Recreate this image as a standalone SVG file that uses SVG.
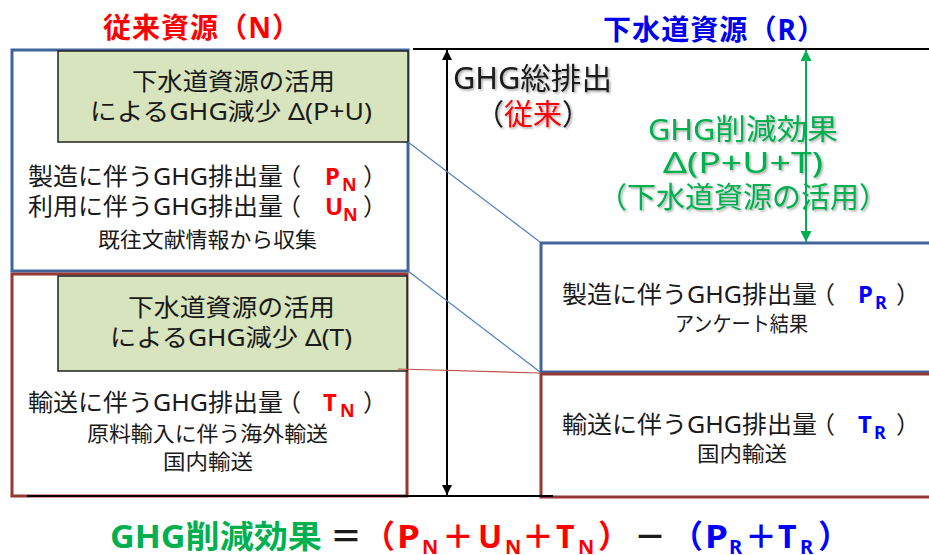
<svg xmlns="http://www.w3.org/2000/svg" width="929" height="555" viewBox="0 0 929 555">
<defs>
<style>
.t{font-family:"Noto Sans","Noto Sans CJK JP",sans-serif;fill:#1a1a1a}
.m{font-size:24px}
.s{font-size:21px}
.b{font-weight:700}
.red{fill:#ff0000}
.blue{fill:#0000ff}
.grn{fill:#00b050}
.bxb{fill:#ffffff;stroke:#41659a;stroke-width:3}
.bxr{fill:#ffffff;stroke:#953735;stroke-width:3}
.bxg{fill:#d7e4bd;stroke:#222222;stroke-width:1.5}
.ln{fill:none;stroke:#000000;stroke-width:2}
</style>
<marker id="ab" viewBox="0 0 10 10" refX="10" refY="5" markerWidth="10" markerHeight="10" markerUnits="userSpaceOnUse" orient="auto-start-reverse"><path d="M0,0 L10,5 L0,10 Z" fill="#000000"/></marker>
<marker id="ag" viewBox="0 0 10 10" refX="10" refY="5" markerWidth="11" markerHeight="11" markerUnits="userSpaceOnUse" orient="auto-start-reverse"><path d="M0,0 L10,5 L0,10 Z" fill="#00b050"/></marker>
<filter id="sh" x="-10%" y="-20%" width="120%" height="150%"><feDropShadow dx="1.5" dy="1.5" stdDeviation="1.2" flood-color="#000000" flood-opacity="0.35"/></filter>
</defs>

<g id="title-conventional"><text class="t b red" x="103" y="38" font-size="28" textLength="197">従来資源（N）</text></g>
<g id="title-sewage"><text class="t b" x="603" y="40" font-size="28" textLength="222" style="fill:#0000ee">下水道資源（R）</text></g>

<g id="conventional-PU">
<rect class="bxb" x="12" y="50" width="396" height="221"/>
<text class="t m" x="28" y="185" textLength="255" lengthAdjust="spacingAndGlyphs">製造に伴うGHG排出量</text>
<text class="t m" x="277" y="185">（<tspan class="b red" x="325">P</tspan><tspan class="b red" font-size="18" x="342" dy="6">N</tspan><tspan x="363" dy="-6">）</tspan></text>
<text class="t m" x="28" y="215" textLength="255" lengthAdjust="spacingAndGlyphs">利用に伴うGHG排出量</text>
<text class="t m" x="277" y="215">（<tspan class="b red" x="325">U</tspan><tspan class="b red" font-size="18" x="343" dy="6">N</tspan><tspan x="363" dy="-6">）</tspan></text>
<text class="t s" x="98" y="247" textLength="219" lengthAdjust="spacingAndGlyphs">既往文献情報から収集</text>
</g>

<g id="reduction-PU">
<rect class="bxg" x="58" y="51" width="350" height="91"/>
<text class="t m" x="132" y="90" textLength="203" lengthAdjust="spacingAndGlyphs">下水道資源の活用</text>
<text class="t m" x="90" y="120" textLength="282" lengthAdjust="spacingAndGlyphs">によるGHG減少  Δ(P+U)</text>
</g>

<g id="conventional-T">
<rect class="bxr" x="12" y="274" width="395" height="222"/>
<text class="t m" x="28" y="411" textLength="255" lengthAdjust="spacingAndGlyphs">輸送に伴うGHG排出量</text>
<text class="t m" x="277" y="411">（<tspan class="b red" x="323">T</tspan><tspan class="b red" font-size="18" x="340" dy="6">N</tspan><tspan x="363" dy="-6">）</tspan></text>
<text class="t s" x="87" y="441" textLength="241" lengthAdjust="spacingAndGlyphs">原料輸入に伴う海外輸送</text>
<text class="t s" x="163" y="469" textLength="90" lengthAdjust="spacingAndGlyphs">国内輸送</text>
</g>

<g id="reduction-T">
<rect class="bxg" x="58" y="276" width="349" height="95"/>
<text class="t m" x="128" y="316" textLength="207" lengthAdjust="spacingAndGlyphs">下水道資源の活用</text>
<text class="t m" x="110" y="346" textLength="242" lengthAdjust="spacingAndGlyphs">によるGHG減少  Δ(T)</text>
</g>

<g id="sewage-P">
<rect class="bxb" x="541" y="243" width="400" height="129"/>
<text class="t m" x="562" y="303" textLength="255" lengthAdjust="spacingAndGlyphs">製造に伴うGHG排出量</text>
<text class="t m" x="811" y="303">（<tspan class="b blue" x="858">P</tspan><tspan class="b blue" font-size="18" x="875" dy="6">R</tspan><tspan x="896" dy="-6">）</tspan></text>
<text class="t s" x="675" y="331" textLength="133" lengthAdjust="spacingAndGlyphs">アンケート結果</text>
</g>

<g id="sewage-T">
<rect class="bxr" x="541" y="374" width="400" height="123"/>
<text class="t m" x="562" y="433" textLength="255" lengthAdjust="spacingAndGlyphs">輸送に伴うGHG排出量</text>
<text class="t m" x="811" y="433">（<tspan class="b blue" x="858">T</tspan><tspan class="b blue" font-size="18" x="874" dy="6">R</tspan><tspan x="896" dy="-6">）</tspan></text>
<text class="t s" x="697" y="461" textLength="90" lengthAdjust="spacingAndGlyphs">国内輸送</text>
</g>

<g id="total-label" filter="url(#sh)">
<text class="t" x="453" y="89" font-size="30" textLength="159" lengthAdjust="spacingAndGlyphs">GHG総排出</text>
<text class="t" x="533" y="125" font-size="29" text-anchor="middle">（<tspan class="red">従来</tspan>）</text>
</g>

<g id="effect-label" filter="url(#sh)">
<text class="t grn" x="648" y="140" font-size="29" textLength="190" lengthAdjust="spacingAndGlyphs">GHG削減効果</text>
<text class="t grn" x="663" y="173" font-size="29" textLength="160" lengthAdjust="spacingAndGlyphs">Δ(P+U+T)</text>
<text class="t grn" x="743" y="208" font-size="29" text-anchor="middle">（下水道資源の活用）</text>
</g>

<g id="connectors">
<line class="ln" x1="413" y1="49" x2="929" y2="49"/>
<line class="ln" x1="27" y1="496" x2="553" y2="496"/>
<line class="ln" x1="447" y1="50" x2="447" y2="495" marker-start="url(#ab)" marker-end="url(#ab)"/>
<line x1="806" y1="50" x2="806" y2="242" stroke="#00b050" stroke-width="2" marker-start="url(#ag)" marker-end="url(#ag)"/>
<line x1="408" y1="142" x2="540" y2="242" stroke="#4f81bd" stroke-width="1.2"/>
<line x1="408" y1="271" x2="540" y2="372" stroke="#4f81bd" stroke-width="1.2"/>
<line x1="398" y1="369" x2="540" y2="373" stroke="#c0504d" stroke-width="1.2"/>
</g>

<g id="formula">
<text class="t b" y="548" font-size="32"><tspan class="grn" x="110" textLength="212" lengthAdjust="spacingAndGlyphs">GHG削減効果</tspan><tspan x="330">＝</tspan><tspan class="red" x="363">（</tspan><tspan class="red" x="397" textLength="23" lengthAdjust="spacingAndGlyphs">P</tspan><tspan class="red" font-size="20" x="422" dy="6">N</tspan><tspan class="red" x="442" dy="-6">＋</tspan><tspan class="red" x="478">U</tspan><tspan class="red" font-size="20" x="505" dy="6">N</tspan><tspan class="red" x="522" dy="-6">＋</tspan><tspan class="red" x="556">T</tspan><tspan class="red" font-size="20" x="578" dy="6">N</tspan><tspan class="red" x="598" dy="-6">）</tspan><tspan x="634">－</tspan><tspan class="blue" x="671">（</tspan><tspan class="blue" x="705" textLength="23" lengthAdjust="spacingAndGlyphs">P</tspan><tspan class="blue" font-size="20" x="729" dy="6">R</tspan><tspan class="blue" x="745" dy="-6">＋</tspan><tspan class="blue" x="778">T</tspan><tspan class="blue" font-size="20" x="800" dy="6">R</tspan><tspan class="blue" x="818" dy="-6">）</tspan></text>
</g>
</svg>
